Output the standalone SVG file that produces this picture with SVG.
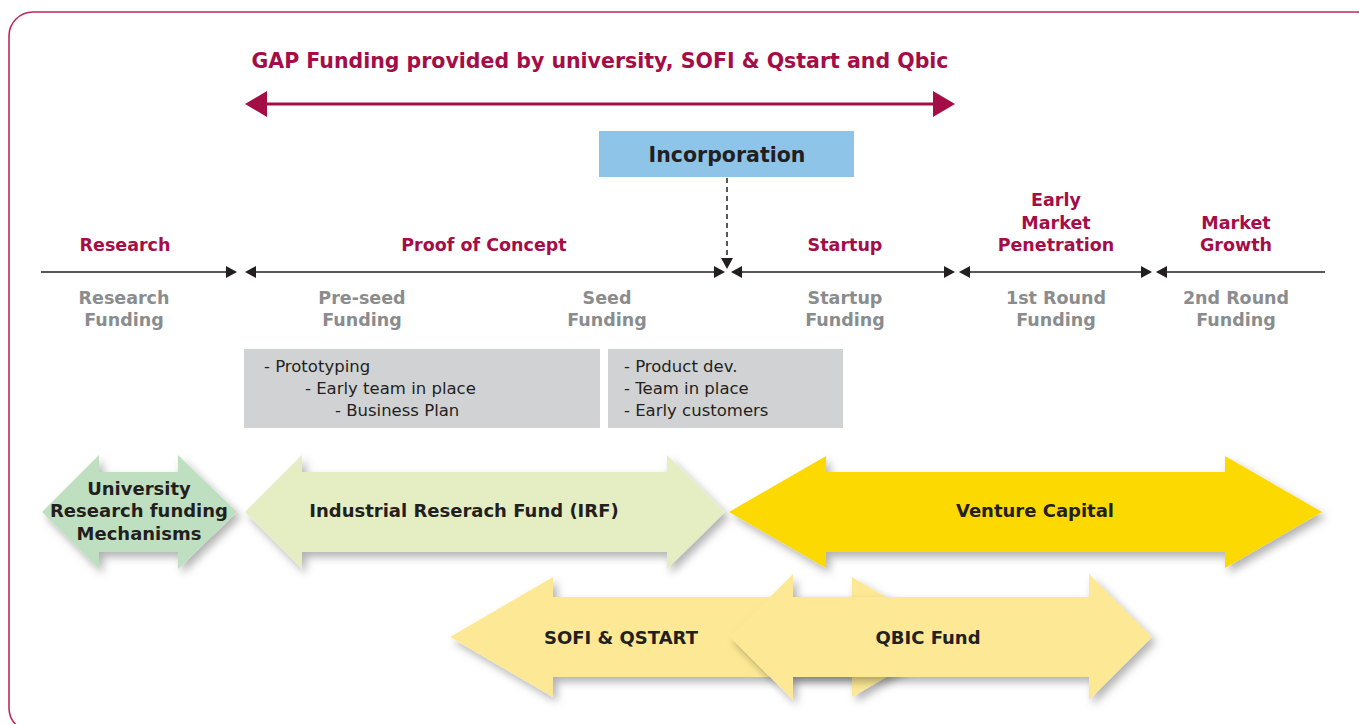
<svg xmlns="http://www.w3.org/2000/svg" width="1359" height="724" viewBox="0 0 1359 724">
<style>
.bold{font-family:"DejaVu Sans","Liberation Sans",sans-serif;font-weight:bold;}
.reg{font-family:"DejaVu Sans","Liberation Sans",sans-serif;}
.phase{font-size:17.5px;fill:#A50D47;text-anchor:middle;}
.fund{font-size:17.5px;fill:#8A8C8E;text-anchor:middle;}
.item{font-size:16.5px;fill:#231F20;}
.lbl{font-size:18px;fill:#231F20;text-anchor:middle;}
.tl{stroke:#231F20;stroke-width:1.3;fill:none;}
.ah{fill:#231F20;}
</style>
<defs>
<filter id="sh" x="-10%" y="-20%" width="125%" height="150%">
<feDropShadow dx="4" dy="5" stdDeviation="4" flood-color="#000" flood-opacity="0.3"/>
</filter>
</defs>
<rect x="0" y="0" width="1359" height="724" fill="#fff"/>
<rect id="frame" x="9" y="12" width="1372" height="720" rx="24" ry="24" fill="none" stroke="#C0285A" stroke-width="1.6"/>

<g id="gap">
<text class="bold" x="600" y="68" font-size="20.5" fill="#A50D47" text-anchor="middle">GAP Funding provided by university, SOFI &amp; Qstart and Qbic</text>
<line x1="262" y1="104" x2="938" y2="104" stroke="#A50D47" stroke-width="3.2"/>
<polygon points="245,104 267,91 267,117" fill="#A50D47"/>
<polygon points="955,104 933,91 933,117" fill="#A50D47"/>
</g>

<g id="incorporation">
<rect x="599" y="131" width="255" height="46" fill="#8EC4E8"/>
<text class="bold" x="727" y="162" font-size="20.5" fill="#231F20" text-anchor="middle">Incorporation</text>
</g>

<g id="connectors">
<line x1="727" y1="178" x2="727" y2="258" stroke="#231F20" stroke-width="1.5" stroke-dasharray="5,4"/>
<polygon class="ah" points="727,269 721,258 733,258"/>
<line class="tl" x1="41" y1="272" x2="228" y2="272"/>
<polygon class="ah" points="237,272 226,266 226,278"/>
<line class="tl" x1="254" y1="272" x2="716" y2="272"/>
<polygon class="ah" points="245,272 256,266 256,278"/>
<polygon class="ah" points="725,272 714,266 714,278"/>
<line class="tl" x1="740" y1="272" x2="946" y2="272"/>
<polygon class="ah" points="731,272 742,266 742,278"/>
<polygon class="ah" points="955,272 944,266 944,278"/>
<line class="tl" x1="968" y1="272" x2="1143" y2="272"/>
<polygon class="ah" points="959,272 970,266 970,278"/>
<polygon class="ah" points="1152,272 1141,266 1141,278"/>
<line class="tl" x1="1165" y1="272" x2="1325" y2="272"/>
<polygon class="ah" points="1156,272 1167,266 1167,278"/>
</g>

<g id="phase-research">
<text class="bold phase" x="125" y="251">Research</text>
<text class="bold fund" x="124" y="304">Research</text>
<text class="bold fund" x="124" y="326">Funding</text>
</g>
<g id="phase-poc">
<text class="bold phase" x="484" y="251">Proof of Concept</text>
<text class="bold fund" x="362" y="304">Pre-seed</text>
<text class="bold fund" x="362" y="326">Funding</text>
<text class="bold fund" x="607" y="304">Seed</text>
<text class="bold fund" x="607" y="326">Funding</text>
</g>
<g id="phase-startup">
<text class="bold phase" x="845" y="251">Startup</text>
<text class="bold fund" x="845" y="304">Startup</text>
<text class="bold fund" x="845" y="326">Funding</text>
</g>
<g id="phase-early">
<text class="bold phase" x="1056" y="206">Early</text>
<text class="bold phase" x="1056" y="229">Market</text>
<text class="bold phase" x="1056" y="251">Penetration</text>
<text class="bold fund" x="1056" y="304">1st Round</text>
<text class="bold fund" x="1056" y="326">Funding</text>
</g>
<g id="phase-growth">
<text class="bold phase" x="1236" y="229">Market</text>
<text class="bold phase" x="1236" y="251">Growth</text>
<text class="bold fund" x="1236" y="304">2nd Round</text>
<text class="bold fund" x="1236" y="326">Funding</text>
</g>

<g id="box-preseed">
<rect x="244" y="349" width="356" height="79" fill="#D1D2D4"/>
<text class="reg item" x="264" y="372">- Prototyping</text>
<text class="reg item" x="305" y="394">- Early team in place</text>
<text class="reg item" x="335" y="416">- Business Plan</text>
</g>
<g id="box-seed">
<rect x="608" y="349" width="235" height="79" fill="#D1D2D4"/>
<text class="reg item" x="624" y="372">- Product dev.</text>
<text class="reg item" x="624" y="394">- Team in place</text>
<text class="reg item" x="624" y="416">- Early customers</text>
</g>

<g id="university">
<polygon filter="url(#sh)" fill="#BFE0C0" points="42,512 99,455 99,472 178,472 178,455 237,512 178,569 178,552 99,552 99,569"/>
<text class="bold lbl" x="139" y="495">University</text>
<text class="bold lbl" x="139" y="517">Research funding</text>
<text class="bold lbl" x="139" y="540">Mechanisms</text>
</g>
<g id="irf">
<polygon filter="url(#sh)" fill="#E5EEC3" points="245,512 302,455 302,472 667,472 667,455 725,512 667,569 667,552 302,552 302,569"/>
<text class="bold lbl" x="464" y="517">Industrial Reserach Fund (IRF)</text>
</g>
<g id="vc">
<polygon filter="url(#sh)" fill="#FCD900" points="729,512 826,456 826,472 1225,472 1225,456 1322,512 1225,568 1225,552 826,552 826,568"/>
<text class="bold lbl" x="1035" y="517">Venture Capital</text>
</g>
<g id="sofi">
<polygon filter="url(#sh)" fill="#FDE995" points="450,637 553,577 553,597 852,597 852,577 955,637 852,697 852,677 553,677 553,697"/>
<text class="bold lbl" x="621" y="644">SOFI &amp; QSTART</text>
</g>
<g id="qbic">
<polygon filter="url(#sh)" fill="#FDE995" points="730,637 793,574 793,597 1089,597 1089,574 1152,637 1089,700 1089,677 793,677 793,700"/>
<text class="bold lbl" x="928" y="644">QBIC Fund</text>
</g>
</svg>
